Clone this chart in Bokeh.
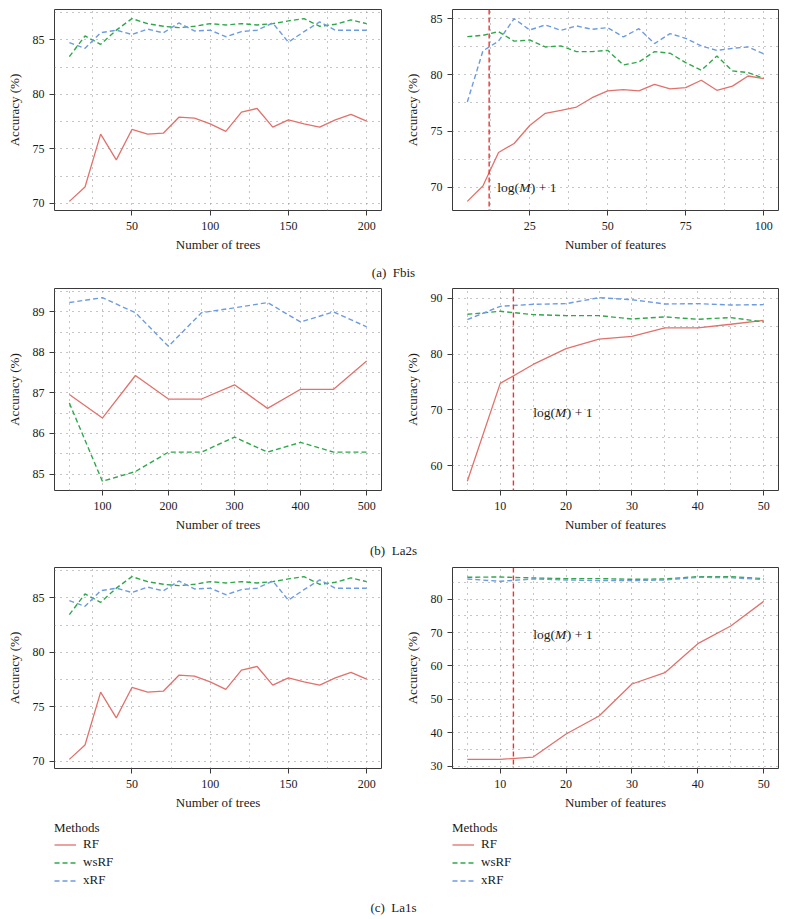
from bokeh.plotting import figure
from bokeh.layouts import column, row
from bokeh.models import FixedTicker, Range1d, Span, Label, Legend, LegendItem
from bokeh.embed import file_html
from bokeh.resources import INLINE

FONT = "Liberation Serif"

# ---------------- data ----------------
methods = ["RF", "wsRF", "xRF"]

# (a) Fbis
fbis_trees = [10, 20, 30, 40, 50, 60, 70, 80, 90, 100, 110, 120, 130, 140, 150, 160, 170, 180, 190, 200]
fbis_trees_rf = [70.18, 71.5, 76.35, 73.99, 76.78, 76.35, 76.44, 77.91, 77.82, 77.3, 76.6, 78.37, 78.71, 77.0, 77.67, 77.3, 77.0, 77.67, 78.16, 77.55]
fbis_trees_wsrf = [83.47, 85.37, 84.6, 85.9, 86.96, 86.5, 86.26, 86.13, 86.26, 86.5, 86.38, 86.5, 86.38, 86.5, 86.75, 86.96, 86.26, 86.44, 86.84, 86.5]
fbis_trees_xrf = [84.75, 84.23, 85.67, 85.9, 85.5, 86.0, 85.65, 86.56, 85.83, 85.9, 85.3, 85.77, 85.9, 86.56, 84.8, 85.77, 86.66, 85.9, 85.9, 85.9]

fbis_feat = [5, 10, 15, 20, 25, 30, 35, 40, 45, 50, 55, 60, 65, 70, 75, 80, 85, 90, 95, 100]
fbis_feat_rf = [68.75, 70.12, 73.1, 73.9, 75.5, 76.58, 76.85, 77.14, 77.97, 78.57, 78.69, 78.57, 79.16, 78.75, 78.86, 79.52, 78.63, 79.0, 79.9, 79.66]
fbis_feat_wsrf = [83.4, 83.52, 83.84, 83.0, 83.1, 82.48, 82.57, 82.07, 82.07, 82.18, 80.88, 81.15, 82.07, 81.92, 81.09, 80.4, 81.68, 80.35, 80.2, 79.7]
fbis_feat_xrf = [77.59, 82.13, 83.0, 85.0, 83.99, 84.44, 83.96, 84.35, 84.05, 84.2, 83.37, 84.11, 82.78, 83.67, 83.25, 82.57, 82.18, 82.36, 82.48, 81.88]

# (b) La2s
la2s_trees = [50, 100, 150, 200, 250, 300, 350, 400, 450, 500]
la2s_trees_rf = [86.96, 86.38, 87.43, 86.85, 86.85, 87.2, 86.62, 87.09, 87.09, 87.79]
la2s_trees_wsrf = [86.75, 84.82, 85.06, 85.54, 85.54, 85.91, 85.54, 85.78, 85.54, 85.54]
la2s_trees_xrf = [89.23, 89.35, 88.98, 88.15, 88.98, 89.1, 89.23, 88.75, 89.0, 88.63]

la2s_feat = [5, 10, 15, 20, 25, 30, 35, 40, 45, 50]
la2s_feat_rf = [57.2, 74.76, 78.15, 81.0, 82.68, 83.2, 84.7, 84.7, 85.36, 86.07]
la2s_feat_wsrf = [87.14, 87.68, 87.08, 86.9, 86.9, 86.3, 86.67, 86.25, 86.55, 85.77]
la2s_feat_xrf = [86.19, 88.57, 88.93, 89.05, 90.12, 89.76, 88.99, 89.05, 88.81, 88.87]

# (c) La1s
la1s_trees = [10, 20, 30, 40, 50, 60, 70, 80, 90, 100, 110, 120, 130, 140, 150, 160, 170, 180, 190, 200]
la1s_trees_rf = [70.18, 71.5, 76.35, 73.99, 76.78, 76.35, 76.44, 77.91, 77.82, 77.3, 76.6, 78.37, 78.71, 77.0, 77.67, 77.3, 77.0, 77.67, 78.16, 77.55]
la1s_trees_wsrf = [83.47, 85.37, 84.6, 85.9, 86.96, 86.5, 86.26, 86.13, 86.26, 86.5, 86.38, 86.5, 86.38, 86.5, 86.75, 86.96, 86.26, 86.44, 86.84, 86.5]
la1s_trees_xrf = [84.75, 84.23, 85.67, 85.9, 85.5, 86.0, 85.65, 86.56, 85.83, 85.9, 85.3, 85.77, 85.9, 86.56, 84.8, 85.77, 86.66, 85.9, 85.9, 85.9]

la1s_feat = [5, 10, 15, 20, 25, 30, 35, 40, 45, 50]
la1s_feat_rf = [32.0, 32.0, 32.7, 39.6, 45.0, 54.6, 58.0, 66.7, 72.0, 79.4]
la1s_feat_wsrf = [86.6, 86.7, 86.4, 86.2, 86.2, 86.0, 86.1, 86.8, 86.8, 86.2]
la1s_feat_xrf = [86.1, 85.4, 86.1, 85.8, 85.6, 85.6, 85.8, 86.6, 86.5, 85.9]

log_m_plus_1 = 12

# tick sets
trees200_major = [50, 100, 150, 200]
trees200_minor = [25, 75, 125, 175]
feat100_major = [25, 50, 75, 100]
feat100_minor = [12.5, 37.5, 62.5, 87.5]
trees500_major = [100, 200, 300, 400, 500]
trees500_minor = [50, 150, 250, 350, 450]
feat50_major = [10, 20, 30, 40, 50]
feat50_minor = [5, 15, 25, 35, 45]

captions = ["(a)\u2002Fbis", "(b)\u2002La2s", "(c)\u2002La1s"]

# ---------------- styles ----------------
COLORS = {"RF": "#E2716B", "wsRF": "#2FA84A", "xRF": "#6D9BE2"}
DASH = {"RF": "solid", "wsRF": "5 3", "xRF": "5 3"}
WIDTH = {"RF": 1.3, "wsRF": 1.4, "xRF": 1.4}
GRID_COLOR = "#8c8c8c"
TXT = "#1a1a1a"


def expand(vals):
    lo, hi = min(vals), max(vals)
    d = (hi - lo) * 0.05
    return lo - d, hi + d


def panel(x, ys, xlabel, xmaj, xmin, ymaj, ymin, width, bl, br, height, bt, bb,
          vline=None, text_at=None):
    xlo, xhi = expand(x)
    ylo, yhi = expand([v for s in ys for v in s])
    p = figure(width=width, height=height, x_range=Range1d(xlo, xhi), y_range=Range1d(ylo, yhi),
               toolbar_location=None, output_backend="svg",
               min_border_left=bl, min_border_right=br, min_border_top=bt, min_border_bottom=bb)
    p.background_fill_color = "white"
    p.border_fill_color = "white"
    p.outline_line_color = "#3a3a3a"
    p.outline_line_width = 1

    p.xaxis.ticker = FixedTicker(ticks=xmaj, minor_ticks=xmin)
    p.yaxis.ticker = FixedTicker(ticks=ymaj, minor_ticks=ymin)
    for ax in (p.xaxis, p.yaxis):
        ax.axis_line_color = None
        ax.major_tick_line_color = "#3a3a3a"
        ax.major_tick_out = 5
        ax.major_tick_in = 0
        ax.minor_tick_line_color = None
        ax.major_label_text_font = FONT
        ax.major_label_text_font_size = "12px"
        ax.major_label_text_color = TXT
        ax.axis_label_text_font = FONT
        ax.axis_label_text_font_size = "13px"
        ax.axis_label_text_font_style = "normal"
        ax.axis_label_text_color = TXT
    p.xaxis.major_label_standoff = 6
    p.yaxis.major_label_standoff = 5
    p.xaxis.axis_label_standoff = 4
    p.yaxis.axis_label_standoff = 8
    p.xaxis.axis_label = xlabel
    p.yaxis.axis_label = "Accuracy (%)"

    for g in (p.xgrid, p.ygrid):
        g.grid_line_color = GRID_COLOR
        g.grid_line_dash = "1 5"
        g.grid_line_width = 1
        g.minor_grid_line_color = GRID_COLOR
        g.minor_grid_line_dash = "1 5"
        g.minor_grid_line_width = 1

    for m, y in zip(methods, ys):
        p.line(x, y, line_color=COLORS[m], line_width=WIDTH[m], line_dash=DASH[m])

    if vline is not None:
        p.add_layout(Span(location=vline, dimension="height", line_color="#F0302F",
                          line_dash="5 3", line_width=1.4))
    if text_at is not None:
        tx, ty = text_at
        common = dict(x=tx, y=ty, text_font=FONT, text_font_size="13.5px",
                      text_baseline="middle", text_align="left", text_color=TXT)
        p.add_layout(Label(text="log(", **common))
        p.add_layout(Label(text="M", x_offset=21.9, text_font_style="italic", **common))
        p.add_layout(Label(text=") + 1", x_offset=33.6, **common))
    return p


def caption(text, h, ybase):
    c = figure(width=786, height=h, x_range=Range1d(0, 786), y_range=Range1d(0, h),
               toolbar_location=None, output_backend="svg", min_border=0,
               x_axis_location=None, y_axis_location=None)
    c.grid.visible = False
    c.outline_line_color = None
    c.add_layout(Label(x=393, y=ybase, text=text, text_align="center", text_baseline="middle",
                       text_font=FONT, text_font_size="13px", text_color=TXT))
    return c


def legend_fig(xoff, h):
    lg = figure(width=393, height=h, x_range=Range1d(0, 1), y_range=Range1d(0, 1),
                toolbar_location=None, output_backend="svg", min_border=0,
                x_axis_location=None, y_axis_location=None)
    lg.grid.visible = False
    lg.outline_line_color = None
    items = []
    for m in methods:
        # legend swatches only: kept outside the visible range
        r = lg.line([-5, -4], [-5, -4], line_color=COLORS[m], line_width=WIDTH[m], line_dash=DASH[m])
        items.append(LegendItem(label=m, renderers=[r]))
    leg = Legend(items=items, title="Methods", location=(xoff, 3.5),
                 title_text_font=FONT, title_text_font_size="13px", title_text_font_style="normal",
                 title_text_color=TXT, title_standoff=0,
                 label_text_font=FONT, label_text_font_size="13px", label_text_color=TXT,
                 label_height=17, glyph_height=17, glyph_width=22, label_standoff=7,
                 spacing=1, padding=0, margin=0,
                 border_line_color=None, background_fill_alpha=0)
    lg.add_layout(leg)
    return lg


L = dict(width=393, bl=54, br=12)
R = dict(width=393, bl=59, br=8)

p1 = panel(fbis_trees, [fbis_trees_rf, fbis_trees_wsrf, fbis_trees_xrf], "Number of trees",
           trees200_major, trees200_minor, [70, 75, 80, 85], [72.5, 77.5, 82.5, 87.5],
           height=262, bt=9, bb=52, **L)
p2 = panel(fbis_feat, [fbis_feat_rf, fbis_feat_wsrf, fbis_feat_xrf], "Number of features",
           feat100_major, feat100_minor, [70, 75, 80, 85], [72.5, 77.5, 82.5],
           height=262, bt=8, bb=52, vline=log_m_plus_1, text_at=(14.6, 70), **R)
p3 = panel(la2s_trees, [la2s_trees_rf, la2s_trees_wsrf, la2s_trees_xrf], "Number of trees",
           trees500_major, trees500_minor, [85, 86, 87, 88, 89], [85.5, 86.5, 87.5, 88.5, 89.5],
           height=256, bt=4, bb=50, **L)
p4 = panel(la2s_feat, [la2s_feat_rf, la2s_feat_wsrf, la2s_feat_xrf], "Number of features",
           feat50_major, feat50_minor, [60, 70, 80, 90], [65, 75, 85],
           height=256, bt=4, bb=50, vline=log_m_plus_1, text_at=(15.0, 69.5), **R)
p5 = panel(la1s_trees, [la1s_trees_rf, la1s_trees_wsrf, la1s_trees_xrf], "Number of trees",
           trees200_major, trees200_minor, [70, 75, 80, 85], [72.5, 77.5, 82.5, 87.5],
           height=253, bt=5, bb=47, **L)
p6 = panel(la1s_feat, [la1s_feat_rf, la1s_feat_wsrf, la1s_feat_xrf], "Number of features",
           feat50_major, feat50_minor, [30, 40, 50, 60, 70, 80], [35, 45, 55, 65, 75, 85],
           height=253, bt=5, bb=47, vline=log_m_plus_1, text_at=(15.0, 69.4), **R)

cap_a = caption(captions[0], 22, 12.3)
cap_b = caption(captions[1], 22, 12)
cap_c = caption(captions[2], 26, 11)

layout = column(row(p1, p2), cap_a, row(p3, p4), cap_b, row(p5, p6),
                row(legend_fig(54, 77), legend_fig(59, 77)), cap_c)

open("out.html", "w").write(file_html(layout, INLINE))
